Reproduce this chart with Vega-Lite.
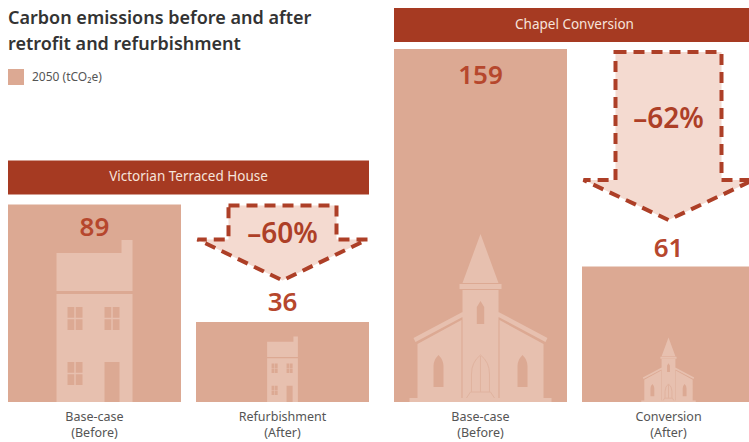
{
  "$schema": "https://vega.github.io/schema/vega-lite/v6.json",
  "padding": {"left": 8, "right": 0, "top": 0, "bottom": 0},
  "background": "white",
  "config": {"view": {"stroke": null}},
  "resolve": {"scale": {"size": "independent"}},
  "title": {
    "text": ["Carbon emissions before and after", "retrofit and refurbishment"],
    "anchor": "start",
    "frame": "bounds",
    "offset": -54,
    "font": "Noto Sans",
    "fontSize": 18,
    "fontWeight": 600,
    "color": "#333333",
    "lineHeight": 26
  },
  "spacing": 18,
  "datasets": {
    "emissions": [
      {"panel": "Victorian Terraced House", "stage": "Base-case (Before)", "tCO2e": 89},
      {"panel": "Victorian Terraced House", "stage": "Refurbishment (After)", "tCO2e": 36},
      {"panel": "Chapel Conversion", "stage": "Base-case (Before)", "tCO2e": 159},
      {"panel": "Chapel Conversion", "stage": "Conversion (After)", "tCO2e": 61}
    ],
    "changes": [
      {"panel": "Victorian Terraced House", "stage": "Refurbishment (After)", "before": 89, "change": "–60%"},
      {"panel": "Chapel Conversion", "stage": "Conversion (After)", "before": 159, "change": "–62%"}
    ]
  },
  "hconcat": [
    {
      "width": 361,
      "height": 402,
      "encoding": {
        "x": {
          "field": "stage",
          "type": "nominal",
          "sort": null,
          "scale": {"domain": ["Base-case (Before)", "Refurbishment (After)"], "paddingInner": 0.0798, "paddingOuter": 0},
          "axis": {"title": null, "domain": false, "ticks": false, "labelAngle": 0, "labelPadding": 8, "labelFont": "Noto Sans", "labelFontSize": 12.5, "labelColor": "#555555", "labelLineHeight": 16, "labelExpr": "split(datum.label, ' ')"}
        }
      },
      "layer": [
        {
          "data": {"name": "emissions"},
          "transform": [{"filter": "datum.panel === 'Victorian Terraced House'"}],
          "mark": {"type": "bar"},
          "encoding": {
            "y": {"field": "tCO2e", "type": "quantitative", "scale": {"domain": [0, 181.08], "nice": false}, "axis": null},
            "color": {
              "datum": "2050 (tCO₂e)",
              "scale": {"range": ["#dca993"]},
              "legend": {"title": null, "orient": "none", "legendX": 0, "legendY": 69, "symbolType": "square", "symbolSize": 256, "symbolStrokeWidth": 0, "symbolOpacity": 1, "labelFont": "Noto Sans", "labelFontSize": 12, "labelColor": "#555555", "labelOffset": 8}
            }
          }
        },
        {
          "data": {"name": "emissions"},
          "transform": [{"filter": "datum.panel === 'Victorian Terraced House'"}],
          "mark": {
            "type": "point",
            "filled": true,
            "opacity": 1,
            "fill": "#e7c0af",
            "shape": "M-38 -149 L27 -149 L27 -162 L38 -162 L38 -111 L-38 -111 Z M-38 -108 L38 -108 L38 0 L-38 0 Z M10 -40 L10 0 L25 0 L25 -40 Z M-27 -95 L-27 -84.2 L-20.2 -84.2 L-20.2 -95 Z M-18.8 -95 L-18.8 -84.2 L-12 -84.2 L-12 -95 Z M-27 -82.8 L-27 -72 L-20.2 -72 L-20.2 -82.8 Z M-18.8 -82.8 L-18.8 -72 L-12 -72 L-12 -82.8 Z M10 -95 L10 -84.2 L16.8 -84.2 L16.8 -95 Z M18.2 -95 L18.2 -84.2 L25 -84.2 L25 -95 Z M10 -82.8 L10 -72 L16.8 -72 L16.8 -82.8 Z M18.2 -82.8 L18.2 -72 L25 -72 L25 -82.8 Z M-27 -40 L-27 -29.2 L-20.2 -29.2 L-20.2 -40 Z M-18.8 -40 L-18.8 -29.2 L-12 -29.2 L-12 -40 Z M-27 -27.8 L-27 -17 L-20.2 -17 L-20.2 -27.8 Z M-18.8 -27.8 L-18.8 -17 L-12 -17 L-12 -27.8 Z"
          },
          "encoding": {
            "y": {"datum": 0, "type": "quantitative"},
            "size": {"field": "tCO2e", "type": "quantitative", "scale": {"type": "pow", "exponent": 2, "domain": [0, 89], "range": [0, 4]}, "legend": null}
          }
        },
        {
          "data": {"name": "emissions"},
          "transform": [{"filter": "datum.panel === 'Victorian Terraced House' && datum.stage === 'Base-case (Before)'"}],
          "mark": {"type": "text", "font": "Noto Sans", "fontSize": 26, "fontWeight": 600, "color": "#b6472d", "baseline": "middle", "dy": 24},
          "encoding": {"y": {"field": "tCO2e", "type": "quantitative"}, "text": {"field": "tCO2e", "type": "quantitative"}}
        },
        {
          "data": {"name": "emissions"},
          "transform": [{"filter": "datum.panel === 'Victorian Terraced House' && datum.stage !== 'Base-case (Before)'"}],
          "mark": {"type": "text", "font": "Noto Sans", "fontSize": 26, "fontWeight": 600, "color": "#b6472d", "baseline": "middle", "dy": -19},
          "encoding": {"y": {"field": "tCO2e", "type": "quantitative"}, "text": {"field": "tCO2e", "type": "quantitative"}}
        },
        {
          "data": {"name": "changes"},
          "transform": [{"filter": "datum.panel === 'Victorian Terraced House'"}],
          "mark": {
            "type": "point",
            "filled": true,
            "opacity": 1,
            "size": 4,
            "fill": "#f4dad0",
            "stroke": "#ad3f27",
            "strokeWidth": 4,
            "strokeDash": [11, 7],
            "shape": "M-54 1 L54 1 L54 35 L85 35 L0 76 L-85 35 L-54 35 Z"
          },
          "encoding": {"y": {"field": "before", "type": "quantitative"}}
        },
        {
          "data": {"name": "changes"},
          "transform": [{"filter": "datum.panel === 'Victorian Terraced House'"}],
          "mark": {"type": "text", "font": "Noto Sans", "fontSize": 28, "fontWeight": 600, "color": "#ad3f27", "baseline": "middle", "dy": 31},
          "encoding": {"y": {"field": "before", "type": "quantitative"}, "text": {"field": "change"}}
        },
        {
          "data": {"name": "changes"},
          "transform": [{"filter": "datum.panel === 'Victorian Terraced House'"}],
          "mark": {"type": "rect", "height": 34, "yOffset": -27, "color": "#a63a22"},
          "encoding": {"x": {"value": 0}, "x2": {"value": "width"}, "y": {"field": "before", "type": "quantitative"}}
        },
        {
          "data": {"name": "changes"},
          "transform": [{"filter": "datum.panel === 'Victorian Terraced House'"}],
          "mark": {"type": "text", "font": "Noto Sans", "fontSize": 13.5, "color": "#f6e4dc", "baseline": "middle", "dy": -27},
          "encoding": {
            "x": {"datum": "Base-case (Before)", "type": "nominal", "bandPosition": 1.0434},
            "y": {"field": "before", "type": "quantitative"},
            "text": {"field": "panel"}
          }
        }
      ]
    },
    {
      "width": 355,
      "height": 402,
      "encoding": {
        "x": {
          "field": "stage",
          "type": "nominal",
          "sort": null,
          "scale": {"domain": ["Base-case (Before)", "Conversion (After)"], "range": [0, 361], "paddingInner": 0.0798, "paddingOuter": 0},
          "axis": {"title": null, "domain": false, "ticks": false, "labelAngle": 0, "labelPadding": 8, "labelFont": "Noto Sans", "labelFontSize": 12.5, "labelColor": "#555555", "labelLineHeight": 16, "labelExpr": "split(datum.label, ' ')"}
        }
      },
      "layer": [
        {
          "data": {"name": "emissions"},
          "transform": [{"filter": "datum.panel === 'Chapel Conversion'"}],
          "mark": {"type": "bar", "clip": true, "color": "#dca993"},
          "encoding": {
            "y": {"field": "tCO2e", "type": "quantitative", "scale": {"domain": [0, 181.08], "nice": false}, "axis": null}
          }
        },
        {
          "data": {"name": "emissions"},
          "transform": [{"filter": "datum.panel === 'Chapel Conversion'"}],
          "mark": {
            "type": "point",
            "filled": true,
            "opacity": 1,
            "fill": "#e7c0af",
            "shape": "M0 -168 L18 -119 L-18 -119 Z M-21 -118 L21 -118 L21 -113 L-21 -113 Z M-18 -112 L18 -112 L18 -4 L-18 -4 Z M0 -101 L-3.7 -95 L-3.7 -78 L3.7 -78 L3.7 -95 Z M-63 -58 L-19 -82 L-19 -4 L-63 -4 Z M-42 -47 Q-47 -42 -47 -36 L-47 -15 L-37 -15 L-37 -36 Q-37 -42 -42 -47 Z M63 -58 L63 -4 L19 -4 L19 -82 Z M42 -47 Q37 -42 37 -36 L37 -15 L47 -15 L47 -36 Q47 -42 42 -47 Z M-67 -64 L-18 -90 L-18 -85 L-65 -60 Z M67 -64 L65 -60 L18 -85 L18 -90 Z M-71 -4 L71 -4 L71 0 L-71 0 Z"
          },
          "encoding": {
            "y": {"datum": 0, "type": "quantitative"},
            "size": {"field": "tCO2e", "type": "quantitative", "scale": {"type": "pow", "exponent": 2, "domain": [0, 159], "range": [0, 4]}, "legend": null}
          }
        },
        {
          "data": {"name": "emissions"},
          "transform": [{"filter": "datum.panel === 'Chapel Conversion'"}],
          "mark": {
            "type": "point",
            "filled": false,
            "opacity": 0.55,
            "stroke": "#dca993",
            "strokeWidth": 1,
            "shape": "M-9 -10 L-9 -28 Q-9 -40 0 -47 Q9 -40 9 -28 L9 -10 M0 -46 L0 -10 M-14 -4 L-10 -10 L10 -10 L14 -4"
          },
          "encoding": {
            "y": {"datum": 0, "type": "quantitative"},
            "size": {"field": "tCO2e", "type": "quantitative"}
          }
        },
        {
          "data": {"name": "emissions"},
          "transform": [{"filter": "datum.panel === 'Chapel Conversion' && datum.stage === 'Base-case (Before)'"}],
          "mark": {"type": "text", "font": "Noto Sans", "fontSize": 26, "fontWeight": 600, "color": "#b6472d", "baseline": "middle", "dy": 27},
          "encoding": {"y": {"field": "tCO2e", "type": "quantitative"}, "text": {"field": "tCO2e", "type": "quantitative"}}
        },
        {
          "data": {"name": "emissions"},
          "transform": [{"filter": "datum.panel === 'Chapel Conversion' && datum.stage !== 'Base-case (Before)'"}],
          "mark": {"type": "text", "font": "Noto Sans", "fontSize": 26, "fontWeight": 600, "color": "#b6472d", "baseline": "middle", "dy": -18},
          "encoding": {"y": {"field": "tCO2e", "type": "quantitative"}, "text": {"field": "tCO2e", "type": "quantitative"}}
        },
        {
          "data": {"name": "changes"},
          "transform": [{"filter": "datum.panel === 'Chapel Conversion'"}],
          "mark": {
            "type": "point",
            "filled": true,
            "opacity": 1,
            "size": 4,
            "fill": "#f4dad0",
            "stroke": "#ad3f27",
            "strokeWidth": 4,
            "strokeDash": [11, 7],
            "shape": "M-53 3 L53 3 L53 131 L85 131 L0 171 L-85 131 L-53 131 Z"
          },
          "encoding": {"y": {"field": "before", "type": "quantitative"}}
        },
        {
          "data": {"name": "changes"},
          "transform": [{"filter": "datum.panel === 'Chapel Conversion'"}],
          "mark": {"type": "text", "font": "Noto Sans", "fontSize": 28, "fontWeight": 600, "color": "#ad3f27", "baseline": "middle", "dy": 71},
          "encoding": {"y": {"field": "before", "type": "quantitative"}, "text": {"field": "change"}}
        },
        {
          "data": {"name": "changes"},
          "transform": [{"filter": "datum.panel === 'Chapel Conversion'"}],
          "mark": {"type": "rect", "height": 34, "yOffset": -24, "color": "#a63a22"},
          "encoding": {"x": {"value": 0}, "x2": {"value": "width"}, "y": {"field": "before", "type": "quantitative"}}
        },
        {
          "data": {"name": "changes"},
          "transform": [{"filter": "datum.panel === 'Chapel Conversion'"}],
          "mark": {"type": "text", "font": "Noto Sans", "fontSize": 13.5, "color": "#f6e4dc", "baseline": "middle", "dy": -24},
          "encoding": {
            "x": {"datum": "Base-case (Before)", "type": "nominal", "bandPosition": 1.0434},
            "y": {"field": "before", "type": "quantitative"},
            "text": {"field": "panel"}
          }
        }
      ]
    }
  ]
}
